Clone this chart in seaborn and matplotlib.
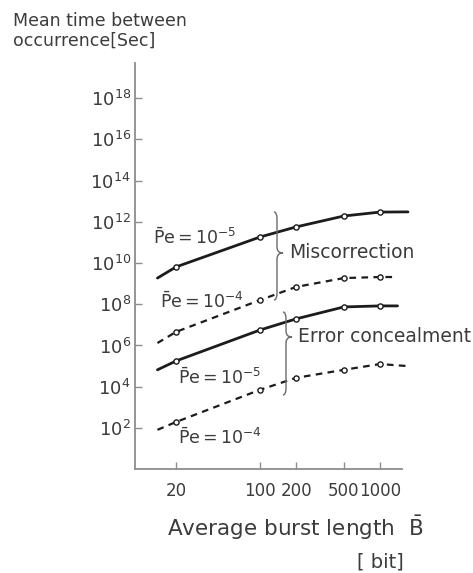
import numpy as np
import pandas as pd
import matplotlib
matplotlib.use("Agg")
import matplotlib.pyplot as plt
from matplotlib.path import Path
from matplotlib.patches import PathPatch
import seaborn as sns

# ---------------- data ----------------
# burst lengths where the open circles sit
burst_points = [20, 100, 200, 500, 1000]
# drawn curves extend a bit beyond the first/last circle
mis5_curve_x = [14, 20, 100, 200, 500, 1000, 1710]
mis4_curve_x = [14, 20, 100, 200, 500, 1000, 1380]
ec5_curve_x = [14, 20, 100, 200, 500, 1000, 1400]
ec4_curve_x = [14, 20, 100, 200, 500, 1000, 1710]

# log10 of mean time between occurrence [sec]
mis5_log = [9.27, 9.81, 11.26, 11.75, 12.28, 12.47, 12.48]   # Miscorrection, Pe=1e-5
mis4_log = [6.12, 6.66, 8.20, 8.84, 9.27, 9.32, 9.32]        # Miscorrection, Pe=1e-4
ec5_log = [4.82, 5.25, 6.75, 7.29, 7.87, 7.92, 7.92]         # Error concealment, Pe=1e-5
ec4_log = [1.91, 2.29, 3.85, 4.43, 4.82, 5.10, 5.00]         # Error concealment, Pe=1e-4

y_tick_exponents = [2, 4, 6, 8, 10, 12, 14, 16, 18]
x_ticks = [20, 100, 200, 500, 1000]
x_tick_labels = ["20", "100", "200", "500", "1000"]

series_labels = [r"$\bar{\mathrm{P}}\mathrm{e}=10^{-5}$",
                 r"$\bar{\mathrm{P}}\mathrm{e}=10^{-4}$",
                 r"$\bar{\mathrm{P}}\mathrm{e}=10^{-5}$",
                 r"$\bar{\mathrm{P}}\mathrm{e}=10^{-4}$"]

# ---------------- figure ----------------
sns.set_style("ticks")
plt.rcParams["font.family"] = ["DejaVu Sans"]
plt.rcParams["mathtext.fontset"] = "dejavusans"

W, H = 473, 573
fig = plt.figure(figsize=(W / 100, H / 100), dpi=100)
fig.patch.set_facecolor("white")

AX_L, AX_R, AX_T, AX_B = 135, 402, 63, 469
ax = fig.add_axes([AX_L / W, 1 - AX_B / H, (AX_R - AX_L) / W, (AX_B - AX_T) / H])
ax.set_facecolor("white")

TXT = "#3c3c3c"
LINE = "#1c1c1c"
AXC = "#8c8c8c"

def pct(x, y):
    return (x / W, 1 - y / H)

curves = [
    (mis5_curve_x, mis5_log, "-", 2.0),
    (mis4_curve_x, mis4_log, (0, (3.0, 2.4)), 1.6),
    (ec5_curve_x, ec5_log, "-", 2.0),
    (ec4_curve_x, ec4_log, (0, (3.0, 2.4)), 1.6),
]

for cx, clog, ls, lw in curves:
    df = pd.DataFrame({"B": cx, "T": np.power(10.0, clog)})
    sns.lineplot(data=df, x="B", y="T", ax=ax, color=LINE, linestyle=ls,
                 linewidth=lw, clip_on=False, zorder=2, legend=False)
    pts = pd.DataFrame({"B": burst_points,
                        "T": np.power(10.0, clog[1:-1])})
    sns.scatterplot(data=pts, x="B", y="T", ax=ax, s=14, marker="o",
                    facecolor="white", edgecolor=LINE, linewidth=1.0,
                    zorder=3, clip_on=False, legend=False)

ax.set_xscale("log")
ax.set_yscale("log")
ax.set_xlim(9.1, 1525)
ax.set_ylim(10 ** 0.01, 10 ** 19.7)

ax.set_xticks(x_ticks)
ax.set_xticklabels(x_tick_labels)
ax.xaxis.set_minor_locator(matplotlib.ticker.NullLocator())
ax.set_yticks([10.0 ** e for e in y_tick_exponents])
ax.set_yticklabels([rf"$10^{{{e}}}$" for e in y_tick_exponents])
ax.yaxis.set_minor_locator(matplotlib.ticker.NullLocator())

ax.tick_params(axis="both", direction="in", length=5, width=1.0, color=AXC,
               labelcolor=TXT)
ax.tick_params(axis="x", labelsize=12, pad=9)
ax.tick_params(axis="y", labelsize=13, pad=3)

for s in ["top", "right"]:
    ax.spines[s].set_visible(False)
for s in ["left", "bottom"]:
    ax.spines[s].set_color(AXC)
    ax.spines[s].set_linewidth(1.3)

ax.set_xlabel("")
ax.set_ylabel("")

# ---------------- texts ----------------
fig.text(*pct(13, 31), "Mean time between\noccurrence[Sec]", fontsize=12.5,
         color=TXT, ha="left", va="center", linespacing=1.15)

fig.text(*pct(295, 528), r"Average burst length  $\bar{\mathrm{B}}$",
         fontsize=15.5, color=TXT, ha="center", va="center")
fig.text(*pct(380, 562), "[ bit]", fontsize=14, color=TXT,
         ha="center", va="center")

label_pos = [(153, 238), (160, 302), (178, 378), (178, 438)]
for (lx, ly), lab in zip(label_pos, series_labels):
    fig.text(*pct(lx, ly), lab, fontsize=12.5, color=TXT, ha="left",
             va="center")

fig.text(*pct(289, 253), "Miscorrection", fontsize=13.5, color=TXT,
         ha="left", va="center")
fig.text(*pct(298, 336), "Error concealment", fontsize=13.5, color=TXT,
         ha="left", va="center")

# ---------------- braces ----------------
def brace(x, top, tip, bottom, tipx):
    verts = [pct(x - 3, top), pct(x, top), pct(x, top + 7),
             pct(x, tip - 6),
             pct(x, tip), pct(tipx, tip),
             pct(x, tip), pct(x, tip + 6),
             pct(x, bottom - 7),
             pct(x, bottom), pct(x - 3, bottom)]
    codes = [Path.MOVETO, Path.CURVE3, Path.CURVE3,
             Path.LINETO,
             Path.CURVE3, Path.CURVE3,
             Path.CURVE3, Path.CURVE3,
             Path.LINETO,
             Path.CURVE3, Path.CURVE3]
    patch = PathPatch(Path(verts, codes), transform=fig.transFigure,
                      facecolor="none", edgecolor="#6a6a6a", linewidth=1.0)
    fig.patches.append(patch)

brace(277, 212, 253, 300, 283)
brace(286, 312, 337, 395, 292)

fig.savefig("out.png", dpi=100, facecolor="white")
